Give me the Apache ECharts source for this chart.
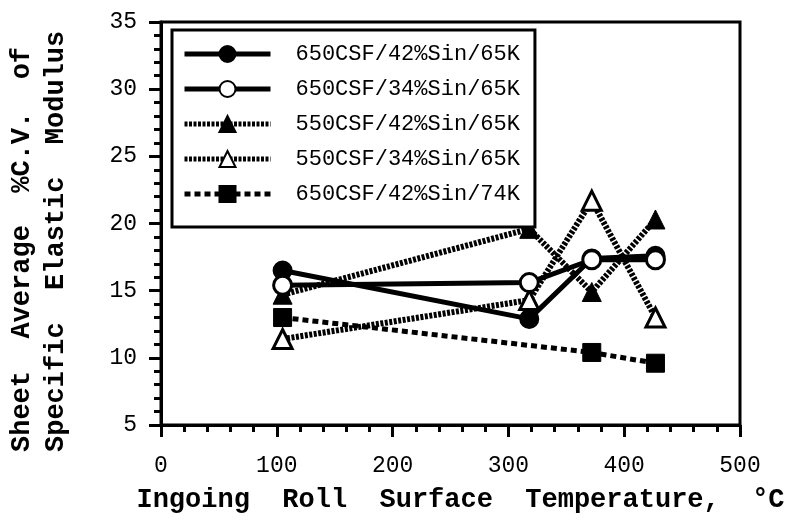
<!DOCTYPE html>
<html>
<head>
<meta charset="utf-8">
<script src="https://cdn.jsdelivr.net/npm/echarts@6/dist/echarts.min.js"></script>
<style>
  html, body { margin: 0; padding: 0; background: #fff; }
  #chart { width: 788px; height: 524px; }
</style>
</head>
<body>
<div id="chart"></div>
<script>
// 温度 (x) 与各组的 %C.V. 值 (y)
const temps = [105, 318, 372, 427];
const tempsSq = [105, 372, 427];
const s650_42_65 = [16.5, 12.9, 17.4, 17.6];
const s650_34_65 = [15.4, 15.6, 17.3, 17.3];
const s550_42_65 = [14.7, 19.6, 14.9, 20.3];
const s550_34_65 = [11.4, 14.3, 21.7, 13.0];
const s650_42_74 = [13.0, 10.4, 9.6];
const names = ['650CSF/42%Sin/65K', '650CSF/34%Sin/65K', '550CSF/42%Sin/65K', '550CSF/34%Sin/65K', '650CSF/42%Sin/74K'];

const pairs = (xs, ys) => xs.map((x, i) => [x, ys[i]]);
const mono = 'Liberation Mono';

const chart = echarts.init(document.getElementById('chart'));
chart.setOption({
  animation: false,
  backgroundColor: '#fff',
  grid: { left: 161, right: 48, top: 22, bottom: 99, show: true, borderColor: '#000', borderWidth: 3 },
  legend: {
    data: names,
    orient: 'vertical',
    left: 172, top: 30,
    padding: [13, 15, 22, 10],
    itemWidth: 86, itemHeight: 20, itemGap: 13,
    backgroundColor: '#fff',
    borderColor: '#000', borderWidth: 3,
    lineStyle: { width: 5, type: 'inherit' },
    textStyle: { fontFamily: mono, fontSize: 22, color: '#000', padding: [0, 0, 0, 20], lineHeight: 20 }
  },
  xAxis: {
    type: 'value', min: 0, max: 500, interval: 100,
    name: 'Ingoing  Roll  Surface  Temperature,  °C',
    nameLocation: 'middle', nameGap: 62,
    nameTextStyle: { fontFamily: mono, fontSize: 27, fontWeight: 'bold', color: '#000', padding: [0, 0, 0, 20] },
    axisLine: { lineStyle: { color: '#000', width: 3 } },
    axisTick: { inside: false, length: 12, lineStyle: { color: '#000', width: 3 } },
    minorTick: { show: true, splitNumber: 5, length: 7, lineStyle: { color: '#000', width: 3 } },
    axisLabel: { fontFamily: mono, fontSize: 23, color: '#000', margin: 29 },
    splitLine: { show: false }
  },
  yAxis: {
    type: 'value', min: 5, max: 35, interval: 5,
    axisLine: { show: true, lineStyle: { color: '#000', width: 3 } },
    axisTick: { show: true, length: 12, lineStyle: { color: '#000', width: 3 } },
    minorTick: { show: true, splitNumber: 5, length: 7, lineStyle: { color: '#000', width: 3 } },
    axisLabel: { fontFamily: mono, fontSize: 23, color: '#000', margin: 24 },
    splitLine: { show: false }
  },
  graphic: [
    { type: 'text', x: 22, y: 452, rotation: Math.PI / 2,
      style: { text: 'Sheet  Average  %C.V.  of', font: 'bold 27px "Liberation Mono"', fill: '#000', textAlign: 'left', textVerticalAlign: 'middle' } },
    { type: 'text', x: 56, y: 452, rotation: Math.PI / 2,
      style: { text: 'Specific  Elastic  Modulus', font: 'bold 27px "Liberation Mono"', fill: '#000', textAlign: 'left', textVerticalAlign: 'middle' } }
  ],
  series: [
    { name: names[0], type: 'line', data: pairs(temps, s650_42_65),
      symbol: 'circle', symbolSize: 18,
      lineStyle: { color: '#000', width: 5 },
      itemStyle: { color: '#000', borderColor: '#000', borderWidth: 2 } },
    { name: names[2], type: 'line', data: pairs(temps, s550_42_65),
      symbol: 'triangle', symbolSize: 19,
      lineStyle: { color: '#000', width: 6, type: [3, 1.5] },
      itemStyle: { color: '#000', borderColor: '#000', borderWidth: 1 } },
    { name: names[3], type: 'line', data: pairs(temps, s550_34_65),
      symbol: 'triangle', symbolSize: 19,
      lineStyle: { color: '#000', width: 6, type: [3, 1.5] },
      itemStyle: { color: '#fff', borderColor: '#000', borderWidth: 3 } },
    { name: names[1], type: 'line', data: pairs(temps, s650_34_65),
      symbol: 'circle', symbolSize: 18,
      lineStyle: { color: '#000', width: 5 },
      itemStyle: { color: '#fff', borderColor: '#000', borderWidth: 3 } },
    { name: names[4], type: 'line', data: pairs(tempsSq, s650_42_74),
      symbol: 'rect', symbolSize: 18,
      lineStyle: { color: '#000', width: 5, type: [6, 4] },
      itemStyle: { color: '#000', borderColor: '#000', borderWidth: 1 } }
  ]
});
</script>
</body>
</html>
